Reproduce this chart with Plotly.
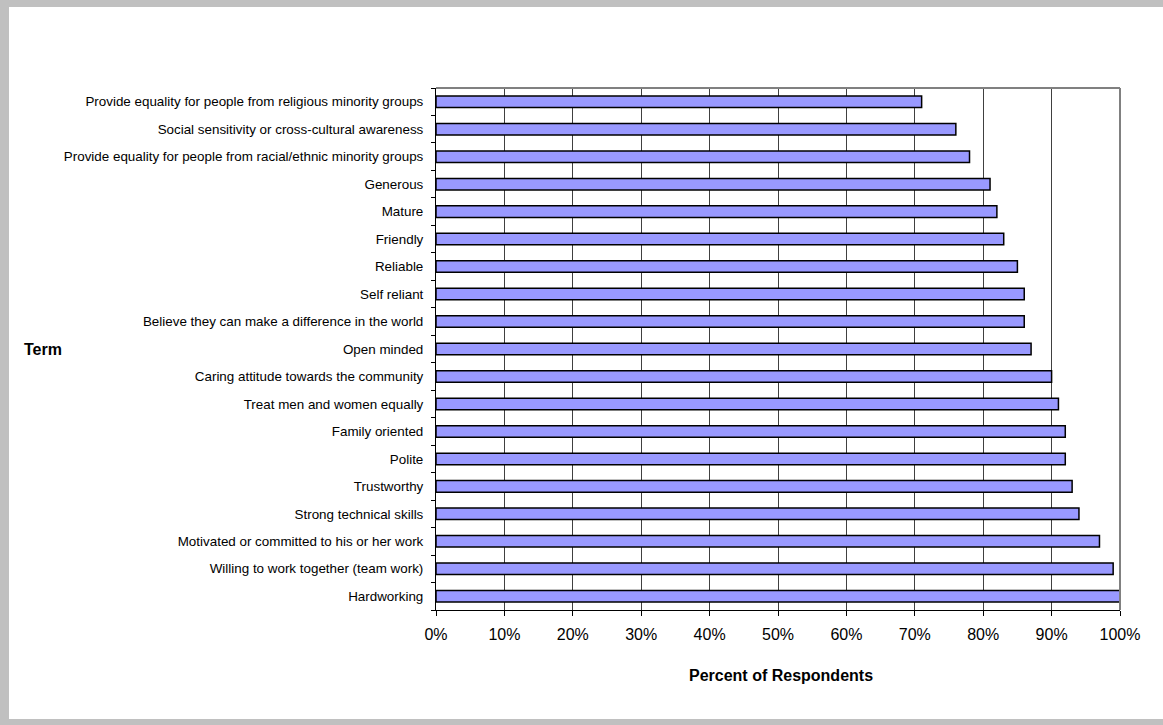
import plotly.graph_objects as go

terms = [
    "Hardworking",
    "Willing to work together (team work)",
    "Motivated or committed to his or her work",
    "Strong technical skills",
    "Trustworthy",
    "Polite",
    "Family oriented",
    "Treat men and women equally",
    "Caring attitude towards the community",
    "Open minded",
    "Believe they can make a difference in the world",
    "Self reliant",
    "Reliable",
    "Friendly",
    "Mature",
    "Generous",
    "Provide equality for people from racial/ethnic minority groups",
    "Social sensitivity or cross-cultural awareness",
    "Provide equality for people from religious minority groups",
]
percent = [100, 99, 97, 94, 93, 92, 92, 91, 90, 87, 86, 86, 85, 83, 82, 81, 78, 76, 71]
x_ticks = list(range(0, 101, 10))

W, H = 1163, 725
L, R, T, B = 436, 1120, 88, 610

fig = go.Figure(go.Bar(
    x=percent, y=terms, orientation="h",
    marker=dict(color="#9999FF", line=dict(color="black", width=1.5)),
    width=0.42,
))

def px(xp):
    return (xp - L) / (R - L)

def py(yp):
    return (B - yp) / (B - T)

shapes = [
    # outer gray frame (left, top, bottom)
    dict(type="rect", xref="paper", yref="paper", x0=px(0), x1=px(9), y0=py(725), y1=py(0),
         fillcolor="#C0C0C0", line=dict(width=0), layer="below"),
    dict(type="rect", xref="paper", yref="paper", x0=px(0), x1=px(W), y0=py(7), y1=py(0),
         fillcolor="#C0C0C0", line=dict(width=0), layer="below"),
    dict(type="rect", xref="paper", yref="paper", x0=px(0), x1=px(W), y0=py(725), y1=py(719),
         fillcolor="#C0C0C0", line=dict(width=0), layer="below"),
    # plot area top and right border
    dict(type="line", xref="paper", yref="paper", x0=0, x1=1, y0=1, y1=1,
         line=dict(color="#808080", width=2)),
    dict(type="line", xref="paper", yref="paper", x0=1, x1=1, y0=0, y1=1,
         line=dict(color="#808080", width=2)),
]

fig.update_layout(
    width=W, height=H,
    margin=dict(l=L, r=W - R, t=T, b=H - B, pad=0),
    paper_bgcolor="white", plot_bgcolor="white",
    font=dict(family="Liberation Sans, Arial, sans-serif", color="black"),
    showlegend=False,
    shapes=shapes,
    bargap=0.58,
    annotations=[
        dict(text="<b>Term</b>", xref="paper", yref="paper", x=px(22), y=py(349),
             xanchor="left", yanchor="middle", showarrow=False, font=dict(size=16)),
        dict(text="<b>Percent of Respondents</b>", xref="paper", yref="paper",
             x=px(781), y=py(675), xanchor="center", yanchor="middle",
             showarrow=False, font=dict(size=16)),
    ],
)

fig.update_xaxes(
    range=[0, 100], tickvals=x_ticks, ticktext=[f"{v}%" for v in x_ticks],
    showgrid=True, gridcolor="#404040", gridwidth=1,
    showline=True, linecolor="black", linewidth=1,
    ticks="outside", ticklen=5, tickcolor="black",
    tickfont=dict(size=16), zeroline=False, fixedrange=True,
    ticklabelstandoff=5,
)
fig.update_yaxes(
    type="category", categoryorder="array", categoryarray=terms,
    range=[-0.5, len(terms) - 0.5],
    showgrid=False, showline=True, linecolor="black", linewidth=1,
    ticks="outside", ticklen=4, tickcolor="black", tickson="boundaries",
    tickfont=dict(size=13.4), fixedrange=True, ticklabelstandoff=9,
)

fig.write_html(
    "out.html",
    config={"displayModeBar": False},
    post_script=(
        "var s=document.createElement('style');"
        "s.textContent='html,body{margin:0;padding:0;overflow:hidden;height:725px;}"
        "::-webkit-scrollbar{display:none;width:0;height:0;}"
        "body>div{display:block;line-height:0;height:725px;overflow:hidden;}';"
        "document.head.appendChild(s);"
    ),
)
